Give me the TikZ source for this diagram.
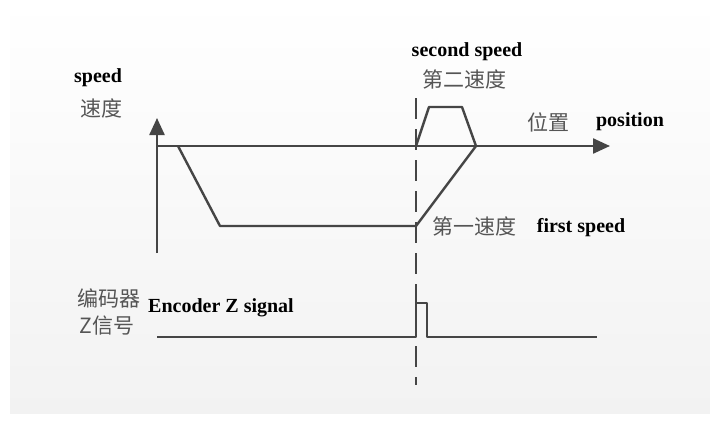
\documentclass[tikz,border=0pt]{standalone}
\usepackage{fontspec}
\setmainfont{Liberation Serif}
\newfontfamily\cjk{Noto Sans CJK SC}
\usetikzlibrary{arrows.meta}
\definecolor{linegray}{HTML}{454545}
\definecolor{cjkgray}{HTML}{555555}
\definecolor{bggray}{HTML}{F2F2F2}

\begin{document}
\begin{tikzpicture}[
    x=1pt, y=-1pt,
    line width=2.4pt,
    every node/.style={inner sep=0pt},
    entext/.style={font=\fontsize{20}{24}\selectfont\bfseries, text=black},
    zhtext/.style={font=\fontsize{21}{25}\selectfont\cjk, text=cjkgray},
    axis/.style={draw=linegray, -{Triangle[length=17pt,width=15pt]}},
    profile/.style={draw=linegray, line join=round},
    marker/.style={draw=linegray, line width=2pt, dash pattern=on 21pt off 10pt}
  ]
  \useasboundingbox (0,0) rectangle (710,423);
  \shade[top color=white, bottom color=bggray] (10,0) rectangle (710,413);

  %--------------------------------------
  % 1) Axes: speed (up) and position (right)
  %--------------------------------------
  \coordinate (O)  at (157,146);
  \coordinate (Yb) at (157,253);
  \coordinate (Yt) at (157,118);
  \coordinate (Xt) at (610,146);
  \draw[axis] (Yb) -- (Yt);
  \draw[axis] (O) -- (Xt);

  %--------------------------------------
  % 2) First speed profile (below the axis)
  %--------------------------------------
  \coordinate (F0) at (178,146);
  \coordinate (F1) at (220,226);
  \coordinate (F2) at (416,226);
  \coordinate (F3) at (476,146);
  \draw[profile] (F0) -- (F1) -- (F2) -- (F3);

  %--------------------------------------
  % 3) Second speed profile (above the axis)
  %--------------------------------------
  \coordinate (S0) at (416,146);
  \coordinate (S1) at (429,107);
  \coordinate (S2) at (462,107);
  \draw[profile] (S0) -- (S1) -- (S2) -- (F3);

  %--------------------------------------
  % 4) Encoder Z signal with its pulse
  %--------------------------------------
  \coordinate (Z0) at (157,337);
  \coordinate (Z1) at (416,337);
  \coordinate (Z2) at (416,303);
  \coordinate (Z3) at (427,303);
  \coordinate (Z4) at (427,337);
  \coordinate (Z5) at (597,337);
  \draw[profile] (Z0) -- (Z1) -- (Z2) -- (Z3) -- (Z4) -- (Z5);

  % Dashed marker through the switch point
  \coordinate (Mt) at (416,98);
  \coordinate (Mb) at (416,385);
  \draw[marker] (Mt) -- (Mb);

  %--------------------------------------
  % 5) Labels
  %--------------------------------------
  \node[entext] (speed)   at (98,78)   {speed};
  \node[zhtext] (speedzh) at (101,108) {速度};
  \node[entext] (second)  at (467,52)  {second speed};
  \node[zhtext] (secondzh) at (464,79) {第二速度};
  \node[zhtext] (poszh)   at (548,122) {位置};
  \node[entext] (pos)     at (630,122) {position};
  \node[zhtext] (firstzh) at (474,226) {第一速度};
  \node[entext] (first)   at (581,228) {first speed};
  \node[zhtext] (enczh)   at (109,298) {编码器};
  \node[entext] (enc)     at (221,308) {Encoder Z signal};
  \node[zhtext] (zsigzh)  at (107,326) {Z信号};

\end{tikzpicture}
\end{document}
